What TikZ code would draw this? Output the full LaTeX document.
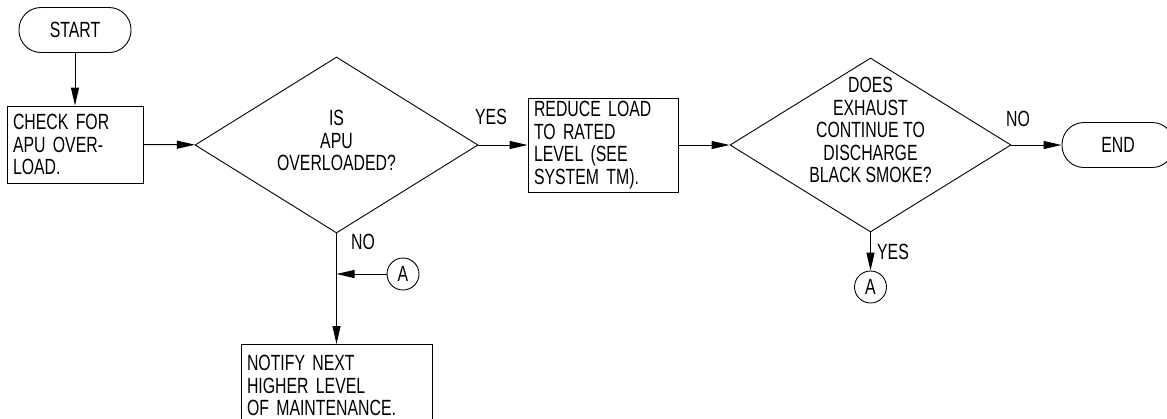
\documentclass[tikz,border=0pt]{standalone}
\usepackage{fontspec}
\setmainfont{Liberation Sans}[FakeStretch=0.72]
\usetikzlibrary{arrows.meta,shapes.geometric}

\begin{document}
\begin{tikzpicture}[x=1pt,y=-1pt,line width=0.9pt,font=\fontsize{22}{22.5}\selectfont,
    term/.style={draw,rounded corners=22pt,minimum width=112pt,minimum height=45pt,inner sep=0pt},
    stepbox/.style={draw,align=left,inner xsep=6pt,inner ysep=0pt},
    decide/.style={draw,diamond,inner sep=0pt},
    asktext/.style={align=center,inner sep=0pt,anchor=north},
    conn/.style={draw,circle,minimum size=32pt,inner sep=0pt},
    flow/.style={-{Triangle[length=18pt,width=8pt]}}]
        \useasboundingbox (0,0) rectangle (1167,418);
        \clip (0,0) rectangle (1167,418);
        % main row
        \node[term] (start) at (75,30) {START};
        \node[stepbox,text width=124pt,minimum height=77pt] (check) at (75,144.5) {CHECK FOR\\APU OVER-\\LOAD.};
        \node[decide,minimum width=283pt,minimum height=176pt] (overload) at (336.5,145) {};
        \node[asktext] (overloadtext) at (336.5,110) {IS\\APU\\OVERLOADED?};
        \node[stepbox,text width=138pt,minimum height=94pt] (reduce) at (603,145) {REDUCE LOAD\\TO RATED\\LEVEL (SEE\\SYSTEM TM).};
        \node[decide,minimum width=281pt,minimum height=174pt] (smoke) at (870.5,145) {};
        \node[asktext] (smoketext) at (870.5,77) {DOES\\EXHAUST\\CONTINUE TO\\DISCHARGE\\BLACK SMOKE?};
        \node[term] (end) at (1118,145) {END};
        % lower branch
        \node[stepbox,text width=179pt,minimum height=82pt,anchor=north] (notify) at (336.5,344) {NOTIFY NEXT\\HIGHER LEVEL\\OF MAINTENANCE.};
        \node[conn] (a1) at (870.5,287) {A};
        \node[conn] (a2) at (403,274) {A};
        \coordinate (join) at (336.5,274);
        \draw[flow] (start)--(check);
        \draw[flow] (check)--(overload);
        \draw[flow] (overload)--(reduce);
        \draw[flow] (reduce)--(smoke);
        \draw[flow] (smoke)--(end);
        \draw[flow] (smoke)--(a1);
        \draw[flow] (overload.south)--(notify.north);
        \draw[flow] (a2)--(join);
        \node (yes1) at (491,117) {YES};
        \node (no1) at (1018,119) {NO};
        \node (no2) at (363,242) {NO};
        \node (yes2) at (893,252) {YES};
      \end{tikzpicture}
\end{document}
